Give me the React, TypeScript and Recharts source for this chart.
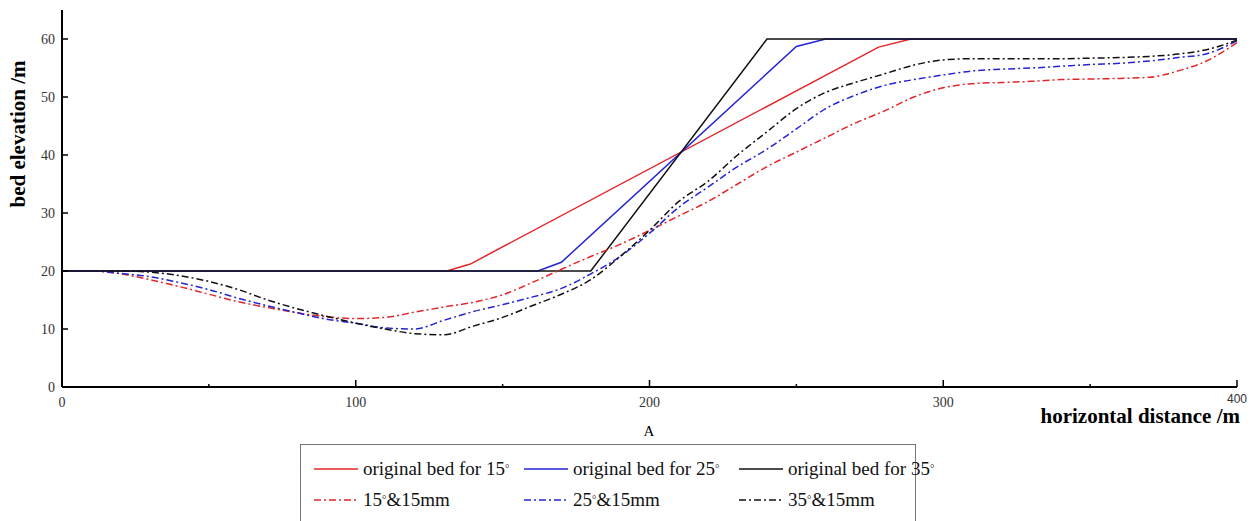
import React from 'react';
import { Legend, Line, LineChart, XAxis, YAxis } from 'recharts';

// eroded beds are sampled every 10 m
const distance = [
    0, 10, 20, 30, 40, 50, 60, 70, 80, 90, 100, 110, 120, 130, 140, 150, 160, 170, 180, 190, 200,
    210, 220, 230, 240, 250, 260, 270, 280, 290, 300, 310, 320, 330, 340, 350, 360, 370, 380, 390, 400,
];
const bed15mm15 = [
    20, 20, 19.5, 18.5, 17.3, 16, 14.7, 13.7, 12.8, 12.1, 11.8, 12, 12.9, 13.8, 14.6, 15.9, 18, 20.3, 22.5, 24.6, 27,
    29.5, 32, 35, 38, 40.5, 43, 45.5, 47.6, 50, 51.6, 52.3, 52.5, 52.7, 53, 53.1, 53.2, 53.4, 54.5, 56.3, 59.4,
];
const bed25mm15 = [
    20, 20, 19.6, 19, 18, 16.8, 15.3, 14, 12.8, 11.7, 11, 10.2, 10, 11.5, 13, 14.2, 15.5, 17, 19.5, 22.5, 26.5,
    31, 34.5, 38, 41, 44.5, 48, 50.3, 52, 53, 53.8, 54.5, 54.8, 55, 55.3, 55.6, 55.8, 56.2, 56.8, 57.5, 59.7,
];
const bed35mm15 = [
    20, 20, 20, 19.8, 19.2, 18.2, 16.8, 15, 13.5, 12.2, 11, 10, 9.2, 9, 10.5, 12, 14, 16, 18.5, 22.5, 27,
    32, 35.5, 40, 44, 48, 50.8, 52.5, 54, 55.5, 56.4, 56.6, 56.6, 56.6, 56.6, 56.7, 56.8, 57, 57.4, 58.2, 59.8,
];

// original beds, break points only
const orig15X = [0, 131, 139, 278, 289, 400];
const orig15Y = [20, 20, 21.2, 58.6, 60, 60];
const orig25X = [0, 162, 170, 250, 260, 400];
const orig25Y = [20, 20, 21.5, 58.7, 60, 60];
const orig35X = [0, 180, 240, 400];
const orig35Y = [20, 20, 60, 60];

const xTicks = [0, 50, 100, 150, 200, 250, 300, 350, 400];
const yTicks = [0, 10, 20, 30, 40, 50, 60];

const RED = '#e3262b';
const BLUE = '#2424d6';
const BLACK = '#111111';
const DASH_DOT = '7 3 2 3';
const FONT = '"Liberation Serif", "Times New Roman", serif';

const toPoints = (xs: number[], ys: number[]) => xs.map((x, i) => ({ x, y: ys[i] }));

const series = [
    { name: 'original bed for 15', data: toPoints(orig15X, orig15Y), color: RED, dash: undefined },
    { name: 'original bed for 25', data: toPoints(orig25X, orig25Y), color: BLUE, dash: undefined },
    { name: 'original bed for 35', data: toPoints(orig35X, orig35Y), color: BLACK, dash: undefined },
    { name: '15|&15mm', data: toPoints(distance, bed15mm15), color: RED, dash: DASH_DOT },
    { name: '25|&15mm', data: toPoints(distance, bed25mm15), color: BLUE, dash: DASH_DOT },
    { name: '35|&15mm', data: toPoints(distance, bed35mm15), color: BLACK, dash: DASH_DOT },
];

const Degree = () => (
    <span style={{ fontSize: 11, verticalAlign: 'top', position: 'relative', top: -1 }}>°</span>
);

function LegendLabel({ name }: { name: string }) {
    if (name.includes('|')) {
        const [a, b] = name.split('|');
        return (
            <span>
                {a}
                <Degree />
                {b}
            </span>
        );
    }
    return (
        <span>
            {name}
            <Degree />
        </span>
    );
}

const colLeft = [13, 223, 438];

function BedLegend() {
    return (
        <div
            style={{
                position: 'relative',
                width: 616,
                height: 80,
                border: '1px solid #777',
                boxSizing: 'border-box',
                background: '#fff',
                fontFamily: FONT,
                fontSize: 19,
                color: '#111',
            }}
        >
            {series.map((s, i) => {
                const row = Math.floor(i / 3);
                const col = i % 3;
                return (
                    <div
                        key={s.name}
                        style={{
                            position: 'absolute',
                            left: colLeft[col],
                            top: row === 0 ? 14 : 45,
                            display: 'flex',
                            alignItems: 'center',
                            whiteSpace: 'nowrap',
                            lineHeight: '20px',
                        }}
                    >
                        <svg width={44} height={10} style={{ marginRight: 5 }}>
                            <line x1={0} x2={44} y1={5} y2={5} stroke={s.color} strokeWidth={1.5} strokeDasharray={s.dash} />
                        </svg>
                        <LegendLabel name={s.name} />
                    </div>
                );
            })}
        </div>
    );
}

function XTick(props: any) {
    const { x, y, payload } = props;
    const major = payload.value % 100 === 0;
    const last = payload.value === 400;
    return (
        <g>
            <line x1={x} x2={x} y1={y} y2={y - (major ? 7 : 3)} stroke="#000" strokeWidth={1.5} />
            {major && (
                <text
                    x={x}
                    y={y + (last ? 16 : 20)}
                    textAnchor="middle"
                    fontFamily={last ? 'Arial, "Liberation Sans", sans-serif' : FONT}
                    fontSize={last ? 12 : 14}
                    fill="#333"
                >
                    {payload.value}
                </text>
            )}
        </g>
    );
}

function YTick(props: any) {
    const { x, y, payload } = props;
    return (
        <g>
            <line x1={x} x2={x + 6} y1={y} y2={y} stroke="#000" strokeWidth={1.5} />
            <text x={x - 7} y={y} dy="0.35em" textAnchor="end" fontFamily={FONT} fontSize={14} fill="#333">
                {payload.value}
            </text>
        </g>
    );
}

export default function App() {
    return (
        <div style={{ position: 'absolute', left: 0, top: 0, width: 1254, height: 521, overflow: 'hidden', background: '#fff' }}>
            <LineChart width={1254} height={521} margin={{ top: 10, right: 17, left: 0, bottom: 104 }}>
                <XAxis
                    type="number"
                    dataKey="x"
                    domain={[0, 400]}
                    ticks={xTicks}
                    tickSize={0}
                    tickMargin={0}
                    tickLine={false}
                    tick={<XTick />}
                    height={30}
                    stroke="#000"
                    strokeWidth={2}
                    allowDataOverflow
                />
                <YAxis
                    type="number"
                    dataKey="y"
                    domain={[0, 65]}
                    ticks={yTicks}
                    tickSize={0}
                    tickMargin={0}
                    tickLine={false}
                    tick={<YTick />}
                    width={62}
                    stroke="#000"
                    strokeWidth={2}
                    allowDataOverflow
                />
                {series.map((s) => (
                    <Line
                        key={s.name}
                        data={s.data}
                        dataKey="y"
                        name={s.name}
                        type={s.dash ? 'monotone' : 'linear'}
                        stroke={s.color}
                        strokeWidth={1.5}
                        strokeDasharray={s.dash}
                        dot={false}
                        activeDot={false}
                        isAnimationActive={false}
                    />
                ))}
                <Legend
                    layout="horizontal"
                    verticalAlign="middle"
                    align="center"
                    content={<BedLegend />}
                    wrapperStyle={{ position: 'absolute', left: 300, top: 444, width: 616 }}
                />
            </LineChart>
            <div
                style={{
                    position: 'absolute',
                    left: 18,
                    top: 134,
                    transform: 'translate(-50%, -50%) rotate(-90deg)',
                    fontFamily: FONT,
                    fontWeight: 'bold',
                    fontSize: 21,
                    whiteSpace: 'nowrap',
                }}
            >
                bed elevation /m
            </div>
            <div
                style={{
                    position: 'absolute',
                    right: 14,
                    top: 405,
                    fontFamily: FONT,
                    fontWeight: 'bold',
                    fontSize: 21,
                    lineHeight: '22px',
                    whiteSpace: 'nowrap',
                }}
            >
                horizontal distance /m
            </div>
            <div
                style={{
                    position: 'absolute',
                    left: 649,
                    top: 423,
                    transform: 'translateX(-50%)',
                    fontFamily: FONT,
                    fontSize: 15,
                }}
            >
                A
            </div>
        </div>
    );
}
